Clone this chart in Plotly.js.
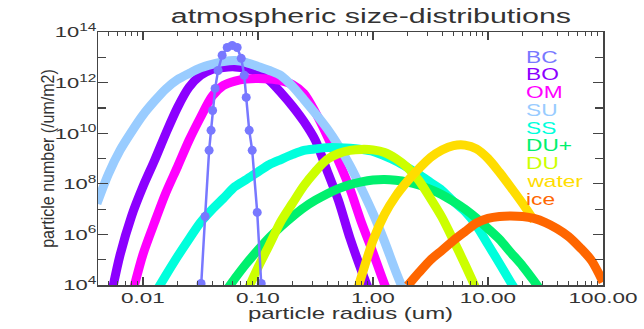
<!DOCTYPE html>
<html><head><meta charset="utf-8">
<script src="https://cdn.plot.ly/plotly-3.0.1.min.js"></script>
<style>html,body{margin:0;padding:0;background:#fff}#chart{width:644px;height:329px}</style>
</head><body><div id="chart"></div>
<script>
// particle radius grid (um)
const radius = [0.00398,0.00501,0.00631,0.00794,0.0100,0.0126,0.0158,0.0200,0.0251,0.0316,
  0.0398,0.0501,0.0631,0.0794,0.100,0.126,0.158,0.200,0.251,0.316,
  0.398,0.501,0.631,0.794,1.00,1.26,1.58,2.00,2.51,3.16,
  3.98,5.01,6.31,7.94,10.0,12.6,15.8,20.0,25.1,31.6,
  39.8,50.1,63.1,79.4,100];

// BC has its own (narrow) radius sampling
const bcRadius = [0.0308,0.0320,0.0347,0.0376,0.0391,0.0403,0.0424,0.0450,0.0488,0.0540,0.0597,0.0659,0.0715,0.0759,0.0790,0.0839,0.0891,0.0985,0.1067,0.111];
const bcNumber = [4.0e2,1.15e4,5.1e6,2.1e9,1.3e10,7.9e10,5.9e11,3.0e12,1.2e13,2.45e13,2.95e13,2.45e13,9.1e12,1.95e12,2.6e11,1.3e10,2.1e9,7.4e6,1.15e4,4.0e2];

const boNumber = [null,1.17e3,1.48e5,5.13e6,7.76e7,8.32e8,9.77e9,1.05e11,6.46e11,1.91e12,
  3.31e12,3.98e12,4.17e12,3.63e12,2.51e12,1.20e12,4.07e11,1.15e11,2.88e10,5.13e9,
  3.39e8,2.19e7,7.08e5,3.72e4,2.45e3,null,null,null,null,null,
  null,null,null,null,null,null,null,null,null,null,null,null,null,null,null];

const omNumber = [null,null,null,3.39e3,1.62e5,2.95e6,4.37e7,4.79e8,5.13e9,4.17e10,
  2.82e11,7.76e11,1.15e12,1.38e12,1.45e12,1.38e12,1.20e12,8.32e11,3.72e11,6.61e10,
  8.13e9,7.94e8,6.31e7,2.95e6,1.91e5,1.07e4,1.0e3,null,null,null,
  null,null,null,null,null,null,null,null,null,null,null,null,null,null,null];

const suNumber = [1.66e7,2.45e8,2.09e9,1.12e10,5.25e10,1.86e11,5.62e11,1.32e12,2.29e12,3.80e12,
  5.25e12,6.76e12,7.41e12,6.17e12,4.37e12,3.02e12,1.91e12,7.08e11,2.14e11,6.03e10,
  1.55e10,3.24e9,5.25e8,6.46e7,6.76e6,5.25e5,3.39e4,2.45e3,null,null,
  null,null,null,null,null,null,null,null,null,null,null,null,null,null,null];

const ssNumber = [null,null,null,null,null,4.37e3,2.40e4,1.35e5,6.46e5,2.95e6,
  9.55e6,2.69e7,7.76e7,1.48e8,2.95e8,5.75e8,9.12e8,1.45e9,2.09e9,2.40e9,
  2.69e9,2.69e9,2.57e9,2.29e9,1.91e9,1.26e9,7.94e8,4.37e8,2.34e8,1.12e8,
  5.50e7,2.00e7,8.13e6,2.24e6,3.98e5,7.08e4,1.26e4,2.24e3,null,null,
  null,null,null,null,null];

const duPlusNumber = [null,null,null,null,null,null,null,null,null,null,
  null,4.17e3,1.82e4,7.08e4,2.40e5,7.59e5,2.04e6,5.13e6,1.15e7,2.24e7,
  3.98e7,6.46e7,9.33e7,1.20e8,1.41e8,1.48e8,1.38e8,1.17e8,8.91e7,6.03e7,
  3.72e7,2.00e7,1.00e7,4.37e6,1.70e6,6.31e5,1.91e5,5.62e4,1.45e4,3.31e3,
  null,null,null,null,null];

const duNumber = [null,null,null,null,null,null,null,null,null,null,
  null,null,null,5.01e3,4.90e4,3.98e5,3.24e6,1.74e7,8.51e7,3.09e8,
  9.12e8,1.58e9,2.09e9,2.29e9,2.19e9,1.74e9,1.00e9,4.37e8,1.35e8,2.63e7,
  4.68e6,5.75e5,6.46e4,6.61e3,null,null,null,null,null,null,
  null,null,null,null,null];

const waterNumber = [null,null,null,null,null,null,null,null,null,null,
  null,null,null,null,null,null,null,null,null,null,
  null,null,6.76e2,2.19e4,5.75e5,6.17e6,3.31e7,1.29e8,3.98e8,1.10e9,
  2.19e9,3.24e9,3.39e9,2.40e9,1.00e9,2.82e8,7.24e7,1.66e7,3.55e6,null,
  null,null,null,null,null];

const iceNumber = [null,null,null,null,null,null,null,null,null,null,
  null,null,null,null,null,null,null,null,null,null,
  null,null,null,null,null,null,null,9.33e3,3.09e4,9.77e4,
  2.34e5,5.75e5,1.29e6,2.82e6,4.27e6,5.13e6,5.37e6,5.13e6,4.27e6,2.95e6,
  1.70e6,8.32e5,3.02e5,9.33e4,1.32e4];

const seriesNames = ['BC','BO','OM','SU','SS','DU+','DU','water','ice'];
const seriesColors = ['rgb(120,120,255)','rgb(140,0,255)','rgb(255,0,255)','rgb(153,204,255)',
  'rgb(0,255,220)','rgb(0,240,110)','rgb(204,255,0)','rgb(255,221,0)','rgb(255,102,0)'];
const seriesValues = [bcNumber, boNumber, omNumber, suNumber, ssNumber, duPlusNumber, duNumber, waterNumber, iceNumber];

const xTickValues = [0.01,0.1,1,10,100];
const xTickLabels = ['0.01','0.10','1.00','10.00','100.00'];
const yTickValues = [1e4,1e6,1e8,1e10,1e12,1e14];
const yTickLabels = ['10<sup>4</sup>','10<sup>6</sup>','10<sup>8</sup>','10<sup>10</sup>','10<sup>12</sup>','10<sup>14</sup>'];

const FONT = 'Liberation Sans, Arial, Helvetica, sans-serif';
const traces = [];
const drawOrder = [1,2,3,4,5,6,7,8,0];
drawOrder.forEach(function(k){
  if (k === 0) {
    traces.push({x: bcRadius, y: bcNumber, type:'scatter', mode:'lines+markers', name: seriesNames[0],
      line:{color: seriesColors[0], width:2.5}, marker:{color: seriesColors[0], size:9}});
  } else {
    traces.push({x: radius, y: seriesValues[k], type:'scatter', mode:'lines', name: seriesNames[k],
      line:{color: seriesColors[k], width:9, shape:'spline', smoothing:0.8}, connectgaps:false});
  }
});

const xMinor = [];
[0.001,0.01,0.1,1,10].forEach(function(d){ for (let m=2;m<=9;m++) xMinor.push(d*m); });
const yMinor = [1e5,1e7,1e9,1e11,1e13];

const annotations = seriesNames.map(function(nm, i){
  return {xref:'paper', yref:'paper', x:(524-98)/505, y:(285-(57+17.75*i))/253, xanchor:'left', yanchor:'middle',
    text: nm, showarrow:false, font:{family:FONT, size:16, color: seriesColors[i]}};
});

const layout = {
  width:644, height:329,
  margin:{l:98, r:41, t:32, b:44, pad:0},
  paper_bgcolor:'#fff', plot_bgcolor:'#fff',
  showlegend:false,
  title:{text:'atmospheric size-distributions', font:{family:FONT, size:20, color:'#333'},
    x:348/644, xanchor:'center', xref:'paper', yref:'container', y:1-16/329, yanchor:'middle'},
  xaxis:{type:'log', range:[-2.391, 2.0], tickmode:'array', tickvals:xTickValues, ticktext:xTickLabels,
    ticks:'inside', ticklen:8, tickwidth:1.2, tickcolor:'#444', mirror:'ticks', showline:true, linecolor:'#444', linewidth:1.5,
    showgrid:false, zeroline:false, tickfont:{family:FONT, size:15, color:'#333'},
    minor:{tickmode:'array', tickvals:xMinor, ticks:'inside', ticklen:4, tickwidth:1, tickcolor:'#444', showgrid:false},
    title:{text:'particle radius (um)', font:{family:FONT, size:16, color:'#333'}, standoff:2}},
  yaxis:{type:'log', range:[4,14], tickmode:'array', tickvals:yTickValues, ticktext:yTickLabels,
    ticks:'inside', ticklen:10, tickwidth:1.2, tickcolor:'#444', mirror:'ticks', showline:true, linecolor:'#444', linewidth:1.5,
    showgrid:false, zeroline:false, tickfont:{family:FONT, size:15.5, color:'#333'},
    minor:{tickmode:'array', tickvals:yMinor, ticks:'inside', ticklen:8, tickwidth:1.2, tickcolor:'#444', showgrid:false},
    title:{text:'particle number (/um/m2)', font:{family:FONT, size:16, color:'#333'}, standoff:12}},
  annotations: annotations
};

// The reference's lettering is horizontally stretched; widen each text in place.
function widen(el, sx, sy, origin, dx, dy) {
  const bb = el.getBBox();
  let cx = bb.x + bb.width / 2;
  if (origin === 'start') cx = bb.x;
  if (origin === 'end') cx = bb.x + bb.width;
  const cy = bb.y + bb.height / 2;
  const old = el.getAttribute('transform') || '';
  el.setAttribute('transform', 'translate(' + (dx||0) + ',' + (dy||0) + ') ' + old +
    ' translate(' + cx + ',' + cy + ') scale(' + sx + ',' + sy + ') translate(' + (-cx) + ',' + (-cy) + ')');
}

Plotly.newPlot('chart', traces, layout, {displayModeBar:false, staticPlot:true}).then(function(gd){
  gd.querySelectorAll('.xtick text').forEach(function(t){ widen(t, 1.5, 1, 'middle', 0, -1); });
  gd.querySelectorAll('.ytick text').forEach(function(t){ widen(t, 1.42, 1, 'end', 3, 0); });
  gd.querySelectorAll('text.gtitle').forEach(function(t){ widen(t, 1.52, 1, 'middle'); });
  gd.querySelectorAll('text.xtitle').forEach(function(t){ widen(t, 1.5, 1, 'middle', 0, -2); });
  gd.querySelectorAll('text.ytitle').forEach(function(t){ widen(t, 1, 1.2, 'middle', 6, 0); });
  gd.querySelectorAll('text.annotation-text').forEach(function(t){ widen(t, 1.42, 1, 'start'); });
});
</script></body></html>
